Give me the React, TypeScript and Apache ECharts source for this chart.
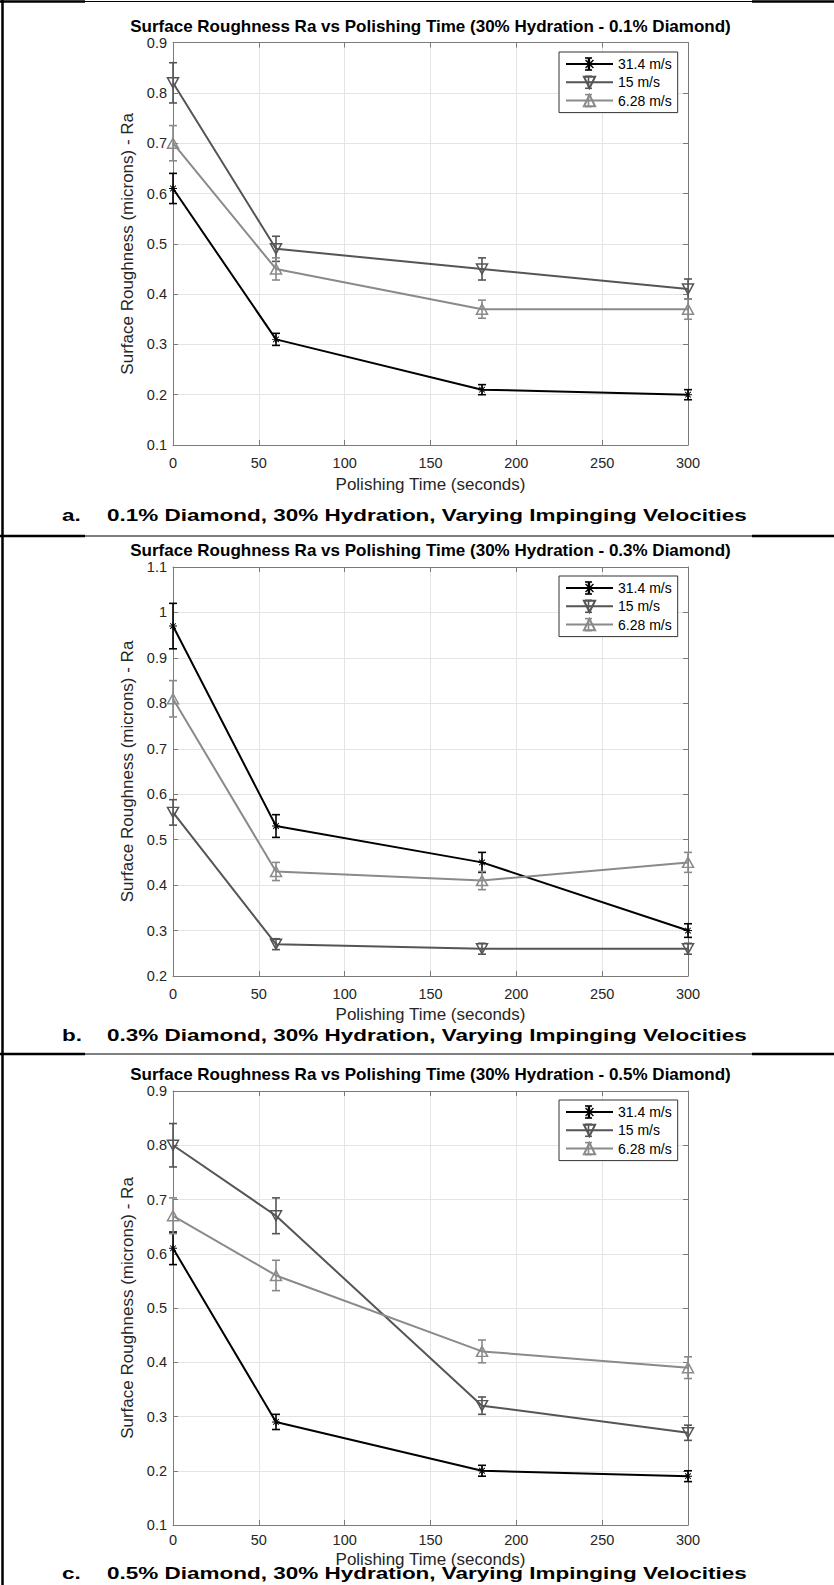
import React, { useEffect, useRef } from 'react';
import * as echarts from 'echarts';

// ---------- data ----------
const timeSeconds = [0, 60, 180, 300];
const speedNames = ['31.4 m/s', '15 m/s', '6.28 m/s'];

// a. 0.1% Diamond
const raA_314 = [0.61, 0.31, 0.21, 0.2];
const errA_314 = [0.03, 0.012, 0.01, 0.01];
const raA_15 = [0.82, 0.49, 0.45, 0.41];
const errA_15 = [0.04, 0.025, 0.022, 0.02];
const raA_628 = [0.7, 0.45, 0.37, 0.37];
const errA_628 = [0.035, 0.022, 0.018, 0.02];

// b. 0.3% Diamond
const raB_314 = [0.97, 0.53, 0.45, 0.3];
const errB_314 = [0.05, 0.025, 0.022, 0.015];
const raB_15 = [0.56, 0.27, 0.26, 0.26];
const errB_15 = [0.028, 0.012, 0.012, 0.012];
const raB_628 = [0.81, 0.43, 0.41, 0.45];
const errB_628 = [0.04, 0.02, 0.02, 0.022];

// c. 0.5% Diamond
const raC_314 = [0.61, 0.29, 0.2, 0.19];
const errC_314 = [0.03, 0.014, 0.01, 0.01];
const raC_15 = [0.8, 0.67, 0.32, 0.27];
const errC_15 = [0.04, 0.033, 0.016, 0.014];
const raC_628 = [0.67, 0.56, 0.42, 0.39];
const errC_628 = [0.033, 0.028, 0.021, 0.02];

const panelValues = [
  [raA_314, raA_15, raA_628],
  [raB_314, raB_15, raB_628],
  [raC_314, raC_15, raC_628],
];
const panelErrors = [
  [errA_314, errA_15, errA_628],
  [errB_314, errB_15, errB_628],
  [errC_314, errC_15, errC_628],
];

const titles = [
  'Surface Roughness Ra vs Polishing Time (30% Hydration - 0.1% Diamond)',
  'Surface Roughness Ra vs Polishing Time (30% Hydration - 0.3% Diamond)',
  'Surface Roughness Ra vs Polishing Time (30% Hydration - 0.5% Diamond)',
];
const captionLetters = ['a.', 'b.', 'c.'];
const captions = [
  '0.1% Diamond, 30% Hydration, Varying Impinging Velocities',
  '0.3% Diamond, 30% Hydration, Varying Impinging Velocities',
  '0.5% Diamond, 30% Hydration, Varying Impinging Velocities',
];
const yMins = [0.1, 0.2, 0.1];
const yMaxs = [0.9, 1.1, 0.9];
const xAxisName = 'Polishing Time (seconds)';
const yAxisName = 'Surface Roughness (microns) - Ra';

// ---------- layout / style ----------
const W = 834;
const H = 1585;
const PLOT_LEFT = 173;
const PLOT_WIDTH = 515;
const layout = [
  { top: 42.6, height: 402.4, titleY: 30, legendTop: 52, captionY: 515, tickMargin: 11, nameGap: 32 },
  { top: 567, height: 409, titleY: 554, legendTop: 576, captionY: 1035, tickMargin: 11, nameGap: 31 },
  { top: 1091, height: 434, titleY: 1078, legendTop: 1100, captionY: 1573, tickMargin: 8, nameGap: 27 },
];
const separators = [536, 1054];
const FONT = "'Liberation Sans', Arial, sans-serif";
const lineColors = ['#000000', '#555555', '#8a8a8a'];
const axisColor = '#7a7a7a';
const gridColor = '#e4e4e4';
const tickColor = '#262626';

const asteriskPath =
  'path://M-0.6,-5L0.6,-5L0.6,5L-0.6,5Z' +
  'M-5,-0.6L5,-0.6L5,0.6L-5,0.6Z' +
  'M-3.11,-3.96L3.96,3.11L3.11,3.96L-3.96,-3.11Z' +
  'M-3.96,3.11L3.11,-3.96L3.96,-3.11L-3.11,3.96Z';

const symbols = [asteriskPath, 'triangle', 'triangle'];
const symbolRotates = [0, 180, 0];
const symbolSizes = [8, [11, 10], [11, 10]];

function buildOption() {
  const grid: any[] = [];
  const xAxis: any[] = [];
  const yAxis: any[] = [];
  const series: any[] = [];
  const title: any[] = [];
  const legend: any[] = [];
  const graphic: any[] = [];

  layout.forEach((L, i) => {
    grid.push({ left: PLOT_LEFT, top: L.top, width: PLOT_WIDTH, height: L.height, show: false });
    const tickCommon = { inside: true, length: 5, lineStyle: { color: axisColor, width: 1 } };
    const lineCommon = { show: true, onZero: false, lineStyle: { color: axisColor, width: 1 } };
    xAxis.push({
      gridIndex: i,
      type: 'value',
      min: 0,
      max: 300,
      interval: 50,
      position: 'bottom',
      axisLine: lineCommon,
      axisTick: tickCommon,
      axisLabel: { margin: L.tickMargin, fontSize: 14.5, lineHeight: 13, color: tickColor, fontFamily: FONT },
      splitLine: { show: true, lineStyle: { color: gridColor, width: 1 } },
      name: xAxisName,
      nameLocation: 'middle',
      nameGap: L.nameGap,
      nameTextStyle: { fontSize: 17, lineHeight: 14, color: tickColor, fontFamily: FONT },
    });
    xAxis.push({
      gridIndex: i,
      type: 'value',
      min: 0,
      max: 300,
      interval: 50,
      position: 'top',
      axisLine: lineCommon,
      axisTick: tickCommon,
      axisLabel: { show: false },
      splitLine: { show: false },
    });
    yAxis.push({
      gridIndex: i,
      type: 'value',
      min: yMins[i],
      max: yMaxs[i],
      interval: 0.1,
      position: 'left',
      axisLine: lineCommon,
      axisTick: tickCommon,
      axisLabel: { margin: 6, fontSize: 14.5, lineHeight: 13, color: tickColor, fontFamily: FONT },
      splitLine: { show: true, lineStyle: { color: gridColor, width: 1 } },
      name: yAxisName,
      nameLocation: 'middle',
      nameGap: 36,
      nameTextStyle: { fontSize: 17, color: tickColor, fontFamily: FONT },
    });
    yAxis.push({
      gridIndex: i,
      type: 'value',
      min: yMins[i],
      max: yMaxs[i],
      interval: 0.1,
      position: 'right',
      axisLine: lineCommon,
      axisTick: tickCommon,
      axisLabel: { show: false },
      splitLine: { show: false },
    });

    title.push({
      text: titles[i],
      left: PLOT_LEFT + PLOT_WIDTH / 2,
      top: L.titleY - 11.2,
      textAlign: 'center',
      padding: 0,
      textStyle: { fontSize: 17, fontWeight: 'bold', color: '#000', fontFamily: FONT, lineHeight: 16 },
    });

    legend.push({
      left: 559,
      top: L.legendTop,
      orient: 'vertical',
      data: speedNames,
      itemWidth: 47,
      itemHeight: 14,
      itemGap: 4.3,
      padding: [5, 6, 5, 6],
      backgroundColor: '#ffffff',
      borderColor: '#333333',
      borderWidth: 1,
      borderRadius: 0,
      textStyle: { fontSize: 14, color: '#000', fontFamily: FONT },
      selectedMode: false,
    });

    speedNames.forEach((name, s) => {
      const vals = panelValues[i][s];
      const errs = panelErrors[i][s];
      const color = lineColors[s];
      series.push({
        type: 'custom',
        name: 'err ' + name,
        xAxisIndex: 2 * i,
        yAxisIndex: 2 * i,
        z: 2,
        silent: true,
        data: timeSeconds.map((t, k) => [t, vals[k] - errs[k], vals[k] + errs[k]]),
        encode: { x: 0, y: [1, 2] },
        renderItem: (params: any, api: any) => {
          const x = api.value(0);
          const p1 = api.coord([x, api.value(1)]);
          const p2 = api.coord([x, api.value(2)]);
          const hw = 4;
          const st = { stroke: color, lineWidth: 1.6, fill: 'none' };
          return {
            type: 'group',
            children: [
              { type: 'line', shape: { x1: p1[0], y1: p1[1], x2: p2[0], y2: p2[1] }, style: st },
              { type: 'line', shape: { x1: p1[0] - hw, y1: p1[1], x2: p1[0] + hw, y2: p1[1] }, style: st },
              { type: 'line', shape: { x1: p2[0] - hw, y1: p2[1], x2: p2[0] + hw, y2: p2[1] }, style: st },
            ],
          };
        },
      });
      series.push({
        type: 'line',
        name,
        xAxisIndex: 2 * i,
        yAxisIndex: 2 * i,
        z: 3,
        data: timeSeconds.map((t, k) => [t, vals[k]]),
        symbol: symbols[s],
        symbolSize: symbolSizes[s],
        symbolRotate: symbolRotates[s],
        showAllSymbol: true,
        lineStyle: { color, width: 2 },
        itemStyle: s === 0
          ? { color, borderWidth: 0 }
          : { color: 'rgba(255,255,255,0)', borderColor: color, borderWidth: 1.5 },
        emphasis: { disabled: true },
      });
    });

    // legend error-bar glyphs
    speedNames.forEach((name, s) => {
      const cy = L.legendTop + 5 + 7 + s * 18.3;
      const cx = 559 + 6 + 23.5;
      const st = { stroke: lineColors[s], lineWidth: 1.6 };
      graphic.push({ type: 'line', z: 100, silent: true, shape: { x1: cx, y1: cy - 6, x2: cx, y2: cy + 6 }, style: st });
      graphic.push({ type: 'line', z: 100, silent: true, shape: { x1: cx - 3.5, y1: cy - 6, x2: cx + 3.5, y2: cy - 6 }, style: st });
      graphic.push({ type: 'line', z: 100, silent: true, shape: { x1: cx - 3.5, y1: cy + 6, x2: cx + 3.5, y2: cy + 6 }, style: st });
    });

    // caption
    const capStyle = { fontSize: 22.5, lineHeight: 18, fontWeight: 'bold', fontFamily: FONT, fill: '#000', verticalAlign: 'middle' };
    graphic.push({
      type: 'text',
      x: 62,
      y: L.captionY,
      scaleY: 0.76,
      style: { ...capStyle, text: captionLetters[i] },
    });
    graphic.push({
      type: 'text',
      x: 107,
      y: L.captionY,
      scaleY: 0.76,
      style: { ...capStyle, text: captions[i] },
    });
  });

  // table borders
  const thick = { stroke: '#000', lineWidth: 2.5 };
  const thin = { stroke: '#000', lineWidth: 1.2 };
  [1.5, ...separators].forEach((y) => {
    graphic.push({ type: 'line', silent: true, shape: { x1: 0, y1: y, x2: W, y2: y }, style: thin });
    graphic.push({ type: 'line', silent: true, shape: { x1: 0, y1: y, x2: 85, y2: y }, style: thick });
    graphic.push({ type: 'line', silent: true, shape: { x1: 752, y1: y, x2: W, y2: y }, style: thick });
  });
  graphic.push({ type: 'line', silent: true, shape: { x1: 2.5, y1: 0, x2: 2.5, y2: H }, style: thick });

  return {
    animation: false,
    backgroundColor: '#ffffff',
    textStyle: { fontFamily: FONT },
    title,
    legend,
    grid,
    xAxis,
    yAxis,
    series,
    graphic,
  };
}

export default function App() {
  const ref = useRef<HTMLDivElement>(null);
  useEffect(() => {
    document.body.style.margin = '0';
    if (!ref.current) return;
    const chart = echarts.init(ref.current, undefined, { renderer: 'svg' });
    chart.setOption(buildOption() as any);
    return () => chart.dispose();
  }, []);
  return <div ref={ref} style={{ width: W, height: H }} />;
}
